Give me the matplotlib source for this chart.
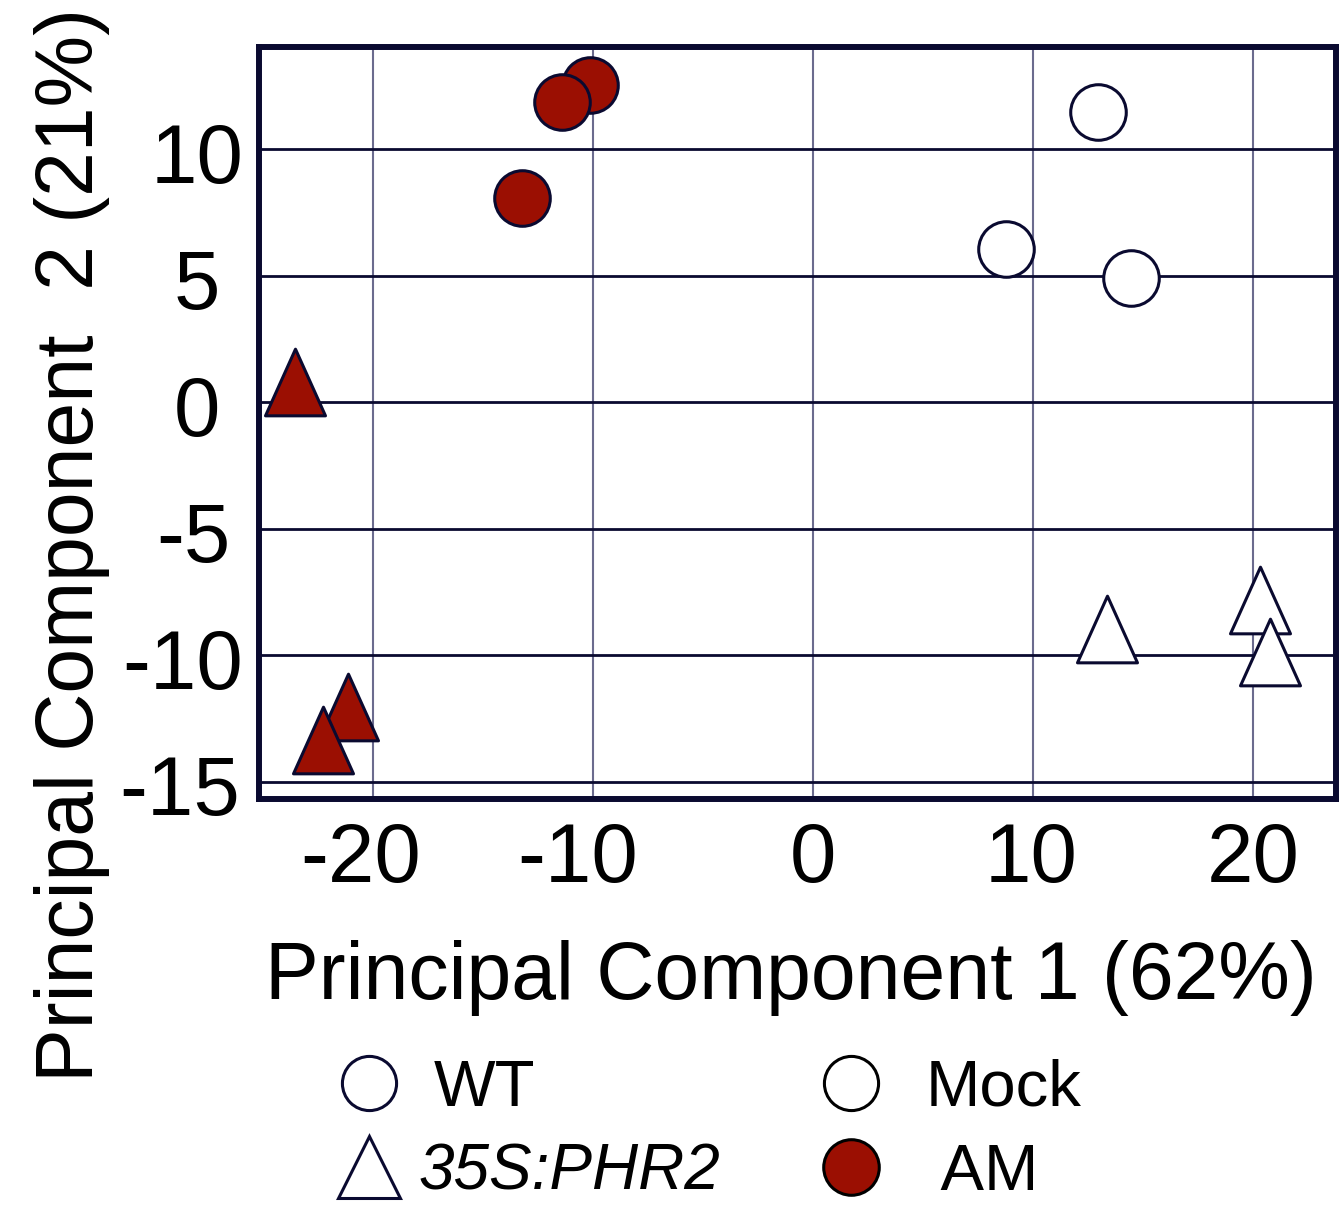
import matplotlib
matplotlib.use("Agg")
import matplotlib.pyplot as plt
from matplotlib.lines import Line2D
from matplotlib.path import Path
from matplotlib.markers import MarkerStyle
from matplotlib.transforms import ScaledTranslation

plt.rcParams['font.family'] = ['Liberation Sans', 'DejaVu Sans']

# ---- data ----
wt_mock_pc1 = [12.93, 8.76, 14.43]
wt_mock_pc2 = [11.46, 6.06, 4.92]
wt_am_pc1 = [-10.15, -11.41, -13.23]
wt_am_pc2 = [12.54, 11.88, 8.09]
phr2_mock_pc1 = [13.35, 20.29, 20.74]
phr2_mock_pc2 = [-8.98, -7.82, -9.87]
phr2_am_pc1 = [-23.56, -21.16, -22.27]
phr2_am_pc2 = [0.82, -12.03, -13.33]

xticks = [-20, -10, 0, 10, 20]
xticklabels = ['-20', '-10', '0', '10', '20']
yticks = [10, 5, 0, -5, -10, -15]
yticklabels = ['10', '5', '0', '-5', '-10', '-15']

xlabel = 'Principal Component 1 (62%)'
ylabel = 'Principal Component  2 (21%)'
legend_labels = ['WT', '35S:PHR2', 'Mock', ' AM']

NAVY = '#0a0a30'
RED = '#9b0f02'
VGRID = '#6b6b8e'

fig = plt.figure(figsize=(13.39, 12.09), dpi=100)
ax = fig.add_axes([259/1339, 1 - 799/1209, (1336-259)/1339, (799-47)/1209])

tri = MarkerStyle(Path([(0, 1), (-0.9, -1), (0.9, -1), (0, 1)], closed=True),
                  joinstyle='miter')
circ_ms = 40
tri_ms = 48
ew = 2.2

ax.plot(wt_mock_pc1, wt_mock_pc2, linestyle='none', marker='o', ms=circ_ms,
        mfc='white', mec=NAVY, mew=ew, zorder=3)
ax.plot(wt_am_pc1, wt_am_pc2, linestyle='none', marker='o', ms=circ_ms,
        mfc=RED, mec=NAVY, mew=ew, zorder=3)
ax.plot(phr2_mock_pc1, phr2_mock_pc2, linestyle='none', marker=tri, ms=tri_ms,
        mfc='white', mec=NAVY, mew=ew, zorder=3)
ax.plot(phr2_am_pc1, phr2_am_pc2, linestyle='none', marker=tri, ms=tri_ms,
        mfc=RED, mec=NAVY, mew=ew, zorder=3)

ax.set_xlim(-25.2, 23.76)
ax.set_ylim(-15.68, 14.04)
ax.set_xticks(xticks)
ax.set_yticks(yticks)
ax.tick_params(axis='both', length=0, labelsize=60, colors='black')
ax.tick_params(axis='x', pad=15.5)
ax.tick_params(axis='y', pad=44.6)
ax.set_xticklabels(xticklabels)
ax.set_yticklabels(yticklabels, ha='center')

ax.set_axisbelow(True)
ax.xaxis.grid(True, color=VGRID, lw=1.5)
ax.yaxis.grid(True, color=NAVY, lw=2.0)
for s in ax.spines.values():
    s.set_linewidth(4.3)
    s.set_color(NAVY)
    s.set_zorder(4)

# per-label nudges (pixels) so that digits sit where the reference puts them
x_shift = {'-20': -13, '-10': -16, '0': 0, '10': -2, '20': 0}
y_shift = {'10': 0, '5': 0, '0': 0, '-5': -4, '-10': -14, '-15': -17}
for lab in ax.get_xticklabels():
    dx = x_shift.get(lab.get_text(), 0)
    lab.set_transform(lab.get_transform() + ScaledTranslation(dx / 100, 0, fig.dpi_scale_trans))
for lab in ax.get_yticklabels():
    dx = y_shift.get(lab.get_text(), 0)
    lab.set_transform(lab.get_transform() + ScaledTranslation(dx / 100, -3 / 100, fig.dpi_scale_trans))

ax.set_xlabel(xlabel, fontsize=58, va='top', ha='center')
ax.xaxis.set_label_coords(791/1339, 1 - 940/1209, transform=fig.transFigure)
ax.set_ylabel(ylabel, fontsize=58, va='center', ha='center')
ax.yaxis.set_label_coords(72/1339, 1 - 545/1209, transform=fig.transFigure)

handles = [
    Line2D([], [], linestyle='none', marker='o', ms=39, mfc='white', mec=NAVY, mew=ew),
    Line2D([], [], linestyle='none', marker='^', ms=44, mfc='white', mec=NAVY, mew=ew),
    Line2D([], [], linestyle='none', marker='o', ms=39, mfc='white', mec='black', mew=ew),
    Line2D([], [], linestyle='none', marker='o', ms=40, mfc=RED, mec='black', mew=ew),
]
leg = fig.legend(handles, legend_labels, ncol=2, loc='upper left',
                 bbox_to_anchor=(336/1339, 1 - 1059/1209),
                 frameon=False, fontsize=47, handlelength=1.0,
                 handletextpad=0.5, columnspacing=1.26, labelspacing=0.36,
                 borderpad=0, borderaxespad=0)
text_nudge = {'35S:PHR2': -15, 'Mock': 10, ' AM': 10}
for t in leg.get_texts():
    if t.get_text() == '35S:PHR2':
        t.set_fontstyle('italic')
        t.set_fontsize(46)
    t.set_position((text_nudge.get(t.get_text(), 0), 0))

fig.savefig('out.png', dpi=100)
